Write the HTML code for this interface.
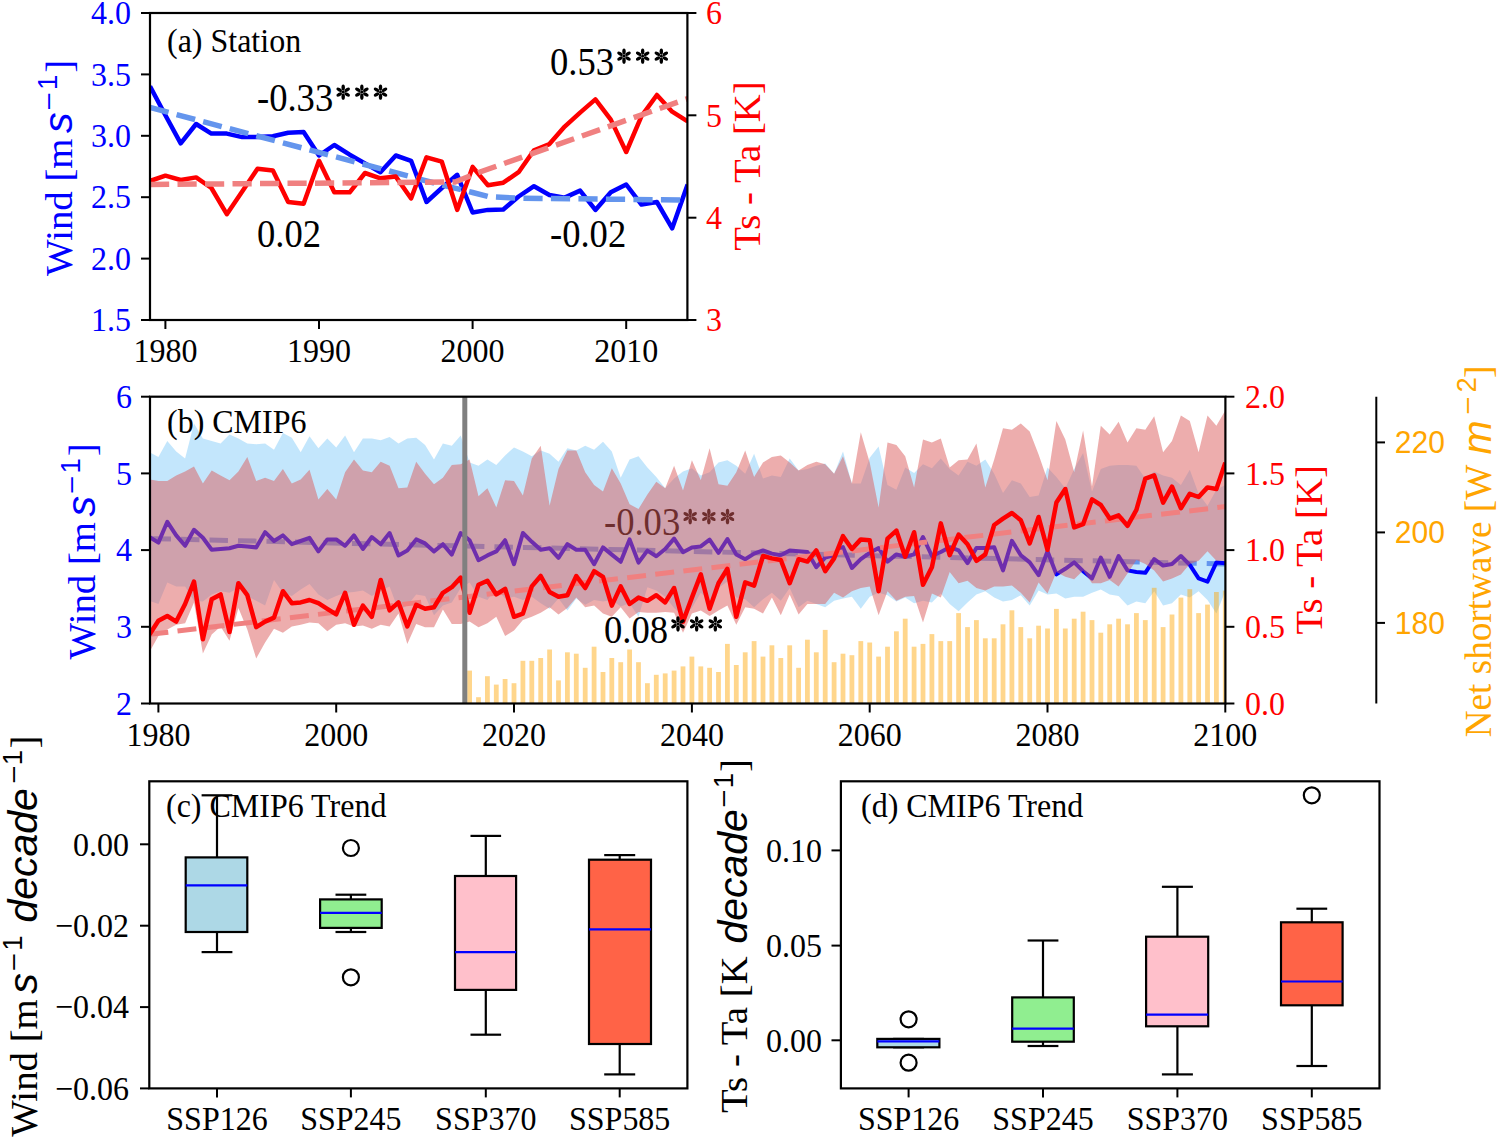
<!DOCTYPE html>
<html><head><meta charset="utf-8"><title>Figure</title>
<style>html,body{margin:0;padding:0;background:#fff;} svg{display:block;}</style></head>
<body><svg width="1500" height="1141" viewBox="0 0 1500 1141">
<rect x="0" y="0" width="1500" height="1141" fill="#fff"/>
<defs><clipPath id="ca"><rect x="150" y="13" width="537.4" height="307"/></clipPath>
<clipPath id="cb"><rect x="150" y="396.7" width="1075.4" height="306.8"/></clipPath></defs>
<g clip-path="url(#ca)">
<polyline points="150.0,86.3 165.4,115.2 180.7,143.3 196.1,124.0 211.4,133.6 226.8,133.6 242.2,137.1 257.5,137.1 272.9,136.2 288.2,132.7 303.6,131.9 319.0,155.5 334.3,145.0 349.7,154.7 365.0,163.4 380.4,172.2 395.8,155.5 411.1,160.8 426.5,202.0 441.8,188.0 457.2,174.8 472.6,212.5 487.9,209.9 503.3,209.5 518.6,196.5 534.0,186.2 549.4,195.0 564.7,197.6 580.1,190.6 595.4,209.9 610.8,192.3 626.2,184.5 641.5,204.6 656.9,202.0 672.2,228.3 687.6,184.5" fill="none" stroke="#0000ff" stroke-width="4.5" stroke-linejoin="round"/>
<polyline points="150.0,107.5 441.8,185.0 472.6,192.5 487.9,196.5 518.0,198.2 687.6,200.0" fill="none" stroke="#6495ed" stroke-width="5.5" stroke-dasharray="19.2 8.3"/>
<polyline points="150.0,181.0 165.4,175.7 180.7,180.0 196.1,177.4 211.4,188.0 226.8,214.2 242.2,191.5 257.5,168.7 272.9,170.4 288.2,202.0 303.6,203.7 319.0,160.8 334.3,192.3 349.7,192.3 365.0,173.0 380.4,178.3 395.8,176.6 411.1,198.5 426.5,157.3 441.8,161.7 457.2,209.9 472.6,166.9 487.9,185.3 503.3,182.7 518.6,172.2 534.0,150.3 549.4,144.1 564.7,126.6 580.1,112.6 595.4,99.4 610.8,119.6 626.2,152.0 641.5,116.1 656.9,95.0 672.2,111.7 687.6,121.3" fill="none" stroke="#ff0000" stroke-width="4.5" stroke-linejoin="round"/>
<polyline points="150.0,184.5 455.0,182.0 480.0,172.0 687.6,98.6" fill="none" stroke="#f08080" stroke-width="5.5" stroke-dasharray="19.2 8.3"/>
</g>
<rect x="150" y="13" width="537.4" height="307" fill="none" stroke="#000" stroke-width="2.2"/>
<line x1="141" y1="13.0" x2="150" y2="13.0" stroke="#000" stroke-width="2"/>
<text x="131.0" y="24.3" font-size="32" fill="#0000ff" text-anchor="end" font-family='"Liberation Serif", serif' transform="matrix(1,0,0,1.07,0,-1.70)" >4.0</text>
<line x1="141" y1="74.4" x2="150" y2="74.4" stroke="#000" stroke-width="2"/>
<text x="131.0" y="85.7" font-size="32" fill="#0000ff" text-anchor="end" font-family='"Liberation Serif", serif' transform="matrix(1,0,0,1.07,0,-6.00)" >3.5</text>
<line x1="141" y1="135.8" x2="150" y2="135.8" stroke="#000" stroke-width="2"/>
<text x="131.0" y="147.1" font-size="32" fill="#0000ff" text-anchor="end" font-family='"Liberation Serif", serif' transform="matrix(1,0,0,1.07,0,-10.30)" >3.0</text>
<line x1="141" y1="197.2" x2="150" y2="197.2" stroke="#000" stroke-width="2"/>
<text x="131.0" y="208.5" font-size="32" fill="#0000ff" text-anchor="end" font-family='"Liberation Serif", serif' transform="matrix(1,0,0,1.07,0,-14.59)" >2.5</text>
<line x1="141" y1="258.6" x2="150" y2="258.6" stroke="#000" stroke-width="2"/>
<text x="131.0" y="269.9" font-size="32" fill="#0000ff" text-anchor="end" font-family='"Liberation Serif", serif' transform="matrix(1,0,0,1.07,0,-18.89)" >2.0</text>
<line x1="141" y1="320.0" x2="150" y2="320.0" stroke="#000" stroke-width="2"/>
<text x="131.0" y="331.3" font-size="32" fill="#0000ff" text-anchor="end" font-family='"Liberation Serif", serif' transform="matrix(1,0,0,1.07,0,-23.19)" >1.5</text>
<line x1="687.4" y1="13.0" x2="696.4" y2="13.0" stroke="#000" stroke-width="2"/>
<text x="706.0" y="24.3" font-size="32" fill="#ff0000" text-anchor="start" font-family='"Liberation Serif", serif' transform="matrix(1,0,0,1.07,0,-1.70)" >6</text>
<line x1="687.4" y1="115.3" x2="696.4" y2="115.3" stroke="#000" stroke-width="2"/>
<text x="706.0" y="126.6" font-size="32" fill="#ff0000" text-anchor="start" font-family='"Liberation Serif", serif' transform="matrix(1,0,0,1.07,0,-8.86)" >5</text>
<line x1="687.4" y1="217.7" x2="696.4" y2="217.7" stroke="#000" stroke-width="2"/>
<text x="706.0" y="229.0" font-size="32" fill="#ff0000" text-anchor="start" font-family='"Liberation Serif", serif' transform="matrix(1,0,0,1.07,0,-16.03)" >4</text>
<line x1="687.4" y1="320.0" x2="696.4" y2="320.0" stroke="#000" stroke-width="2"/>
<text x="706.0" y="331.3" font-size="32" fill="#ff0000" text-anchor="start" font-family='"Liberation Serif", serif' transform="matrix(1,0,0,1.07,0,-23.19)" >3</text>
<line x1="165.4" y1="320" x2="165.4" y2="329" stroke="#000" stroke-width="2"/>
<text x="165.4" y="362.0" font-size="32" fill="#000" text-anchor="middle" font-family='"Liberation Serif", serif' transform="matrix(1,0,0,1.07,0,-25.34)" >1980</text>
<line x1="319.0" y1="320" x2="319.0" y2="329" stroke="#000" stroke-width="2"/>
<text x="319.0" y="362.0" font-size="32" fill="#000" text-anchor="middle" font-family='"Liberation Serif", serif' transform="matrix(1,0,0,1.07,0,-25.34)" >1990</text>
<line x1="472.6" y1="320" x2="472.6" y2="329" stroke="#000" stroke-width="2"/>
<text x="472.6" y="362.0" font-size="32" fill="#000" text-anchor="middle" font-family='"Liberation Serif", serif' transform="matrix(1,0,0,1.07,0,-25.34)" >2000</text>
<line x1="626.2" y1="320" x2="626.2" y2="329" stroke="#000" stroke-width="2"/>
<text x="626.2" y="362.0" font-size="32" fill="#000" text-anchor="middle" font-family='"Liberation Serif", serif' transform="matrix(1,0,0,1.07,0,-25.34)" >2010</text>
<text x="167.0" y="52.0" font-size="32" fill="#000" text-anchor="start" font-family='"Liberation Serif", serif' transform="matrix(1,0,0,1.07,0,-3.64)" >(a) Station</text>
<text x="257.0" y="111.0" font-size="36.6" fill="#000" text-anchor="start" font-family='"Liberation Serif", serif' transform="matrix(1,0,0,1.07,0,-7.77)" >-0.33</text>
<g fill="#000"><ellipse cx="343.19" cy="87.58" rx="3.11" ry="1.72" transform="rotate(-90 343.19 87.58)"/><ellipse cx="347.15" cy="89.86" rx="3.11" ry="1.72" transform="rotate(-30 347.15 89.86)"/><ellipse cx="347.15" cy="94.44" rx="3.11" ry="1.72" transform="rotate(30 347.15 94.44)"/><ellipse cx="343.19" cy="96.73" rx="3.11" ry="1.72" transform="rotate(90 343.19 96.73)"/><ellipse cx="339.23" cy="94.44" rx="3.11" ry="1.72" transform="rotate(150 339.23 94.44)"/><ellipse cx="339.23" cy="89.86" rx="3.11" ry="1.72" transform="rotate(-150 339.23 89.86)"/><circle cx="343.19" cy="92.15" r="1.46"/><ellipse cx="361.85" cy="87.58" rx="3.11" ry="1.72" transform="rotate(-90 361.85 87.58)"/><ellipse cx="365.82" cy="89.86" rx="3.11" ry="1.72" transform="rotate(-30 365.82 89.86)"/><ellipse cx="365.82" cy="94.44" rx="3.11" ry="1.72" transform="rotate(30 365.82 94.44)"/><ellipse cx="361.85" cy="96.73" rx="3.11" ry="1.72" transform="rotate(90 361.85 96.73)"/><ellipse cx="357.89" cy="94.44" rx="3.11" ry="1.72" transform="rotate(150 357.89 94.44)"/><ellipse cx="357.89" cy="89.86" rx="3.11" ry="1.72" transform="rotate(-150 357.89 89.86)"/><circle cx="361.85" cy="92.15" r="1.46"/><ellipse cx="380.52" cy="87.58" rx="3.11" ry="1.72" transform="rotate(-90 380.52 87.58)"/><ellipse cx="384.48" cy="89.86" rx="3.11" ry="1.72" transform="rotate(-30 384.48 89.86)"/><ellipse cx="384.48" cy="94.44" rx="3.11" ry="1.72" transform="rotate(30 384.48 94.44)"/><ellipse cx="380.52" cy="96.73" rx="3.11" ry="1.72" transform="rotate(90 380.52 96.73)"/><ellipse cx="376.56" cy="94.44" rx="3.11" ry="1.72" transform="rotate(150 376.56 94.44)"/><ellipse cx="376.56" cy="89.86" rx="3.11" ry="1.72" transform="rotate(-150 376.56 89.86)"/><circle cx="380.52" cy="92.15" r="1.46"/></g>
<text x="550.0" y="75.0" font-size="36.6" fill="#000" text-anchor="start" font-family='"Liberation Serif", serif' transform="matrix(1,0,0,1.07,0,-5.25)" >0.53</text>
<g fill="#000"><ellipse cx="624.00" cy="51.58" rx="3.11" ry="1.72" transform="rotate(-90 624.00 51.58)"/><ellipse cx="627.96" cy="53.86" rx="3.11" ry="1.72" transform="rotate(-30 627.96 53.86)"/><ellipse cx="627.96" cy="58.44" rx="3.11" ry="1.72" transform="rotate(30 627.96 58.44)"/><ellipse cx="624.00" cy="60.73" rx="3.11" ry="1.72" transform="rotate(90 624.00 60.73)"/><ellipse cx="620.04" cy="58.44" rx="3.11" ry="1.72" transform="rotate(150 620.04 58.44)"/><ellipse cx="620.04" cy="53.86" rx="3.11" ry="1.72" transform="rotate(-150 620.04 53.86)"/><circle cx="624.00" cy="56.15" r="1.46"/><ellipse cx="642.67" cy="51.58" rx="3.11" ry="1.72" transform="rotate(-90 642.67 51.58)"/><ellipse cx="646.63" cy="53.86" rx="3.11" ry="1.72" transform="rotate(-30 646.63 53.86)"/><ellipse cx="646.63" cy="58.44" rx="3.11" ry="1.72" transform="rotate(30 646.63 58.44)"/><ellipse cx="642.67" cy="60.73" rx="3.11" ry="1.72" transform="rotate(90 642.67 60.73)"/><ellipse cx="638.70" cy="58.44" rx="3.11" ry="1.72" transform="rotate(150 638.70 58.44)"/><ellipse cx="638.70" cy="53.86" rx="3.11" ry="1.72" transform="rotate(-150 638.70 53.86)"/><circle cx="642.67" cy="56.15" r="1.46"/><ellipse cx="661.33" cy="51.58" rx="3.11" ry="1.72" transform="rotate(-90 661.33 51.58)"/><ellipse cx="665.29" cy="53.86" rx="3.11" ry="1.72" transform="rotate(-30 665.29 53.86)"/><ellipse cx="665.29" cy="58.44" rx="3.11" ry="1.72" transform="rotate(30 665.29 58.44)"/><ellipse cx="661.33" cy="60.73" rx="3.11" ry="1.72" transform="rotate(90 661.33 60.73)"/><ellipse cx="657.37" cy="58.44" rx="3.11" ry="1.72" transform="rotate(150 657.37 58.44)"/><ellipse cx="657.37" cy="53.86" rx="3.11" ry="1.72" transform="rotate(-150 657.37 53.86)"/><circle cx="661.33" cy="56.15" r="1.46"/></g>
<text x="257.0" y="247.5" font-size="36.6" fill="#000" text-anchor="start" font-family='"Liberation Serif", serif' transform="matrix(1,0,0,1.07,0,-17.33)" >0.02</text>
<text x="550.0" y="247.5" font-size="36.6" fill="#000" text-anchor="start" font-family='"Liberation Serif", serif' transform="matrix(1,0,0,1.07,0,-17.33)" >-0.02</text>
<g transform="translate(71.5,275.9) rotate(-90)" fill="#0000ff"><text x="-0.0" y="0.0" font-family='"Liberation Serif", serif' font-style="normal" font-size="38.8">Wind [m</text><text x="142.9" y="0.0" font-family='"Liberation Sans", sans-serif' font-style="italic" font-size="41">s</text><text x="167.0" y="-16.0" font-family='"Liberation Sans", sans-serif' font-style="normal" font-size="27.5">–</text><text x="185.9" y="-14.5" font-family='"Liberation Sans", sans-serif' font-style="normal" font-size="27.5">1</text><text x="203.1" y="0.0" font-family='"Liberation Serif", serif' font-style="normal" font-size="38.8">]</text></g>
<g transform="translate(759.6,250) rotate(-90)" fill="#ff0000"><text x="-0.7" y="0.0" font-family='"Liberation Serif", serif' font-style="normal" font-size="38.8">Ts - Ta [K]</text></g>
<g clip-path="url(#cb)">
<polygon points="149.5,452.2 158.4,457.0 167.3,441.0 176.2,451.4 185.1,458.6 194.0,423.4 202.9,438.6 211.7,441.0 220.6,443.4 229.5,434.6 238.4,438.6 247.3,443.4 256.2,444.2 265.1,443.4 274.0,449.8 282.9,433.0 291.8,437.8 300.7,452.2 309.5,436.2 318.4,448.2 327.3,438.6 336.2,447.4 345.1,435.4 354.0,452.2 362.9,438.6 371.8,438.6 380.7,440.2 389.6,437.0 398.5,443.4 407.3,438.6 416.2,437.8 425.1,445.0 434.0,459.4 442.9,443.4 451.8,445.8 460.7,435.4 469.6,462.6 478.5,465.8 487.4,459.4 496.3,465.0 505.1,455.4 514.0,447.4 522.9,451.4 531.8,456.2 540.7,450.6 549.6,453.8 558.5,461.8 567.4,448.2 576.3,450.6 585.2,445.8 594.1,449.8 603.0,441.8 611.8,451.4 620.7,477.8 629.6,459.4 638.5,456.2 647.4,467.4 656.3,477.0 665.2,488.2 674.1,478.6 683.0,471.4 691.9,468.2 700.8,475.4 709.6,472.2 718.5,462.6 727.4,460.2 736.3,465.8 745.2,473.8 754.1,453.8 763.0,478.6 771.9,475.4 780.8,477.0 789.7,458.6 798.6,470.6 807.4,469.0 816.3,465.8 825.2,463.4 834.1,473.8 843.0,451.4 851.9,483.4 860.8,483.4 869.7,457.8 878.6,446.6 887.5,485.0 896.4,489.8 905.2,467.4 914.1,473.0 923.0,464.2 931.9,468.2 940.8,458.6 949.7,469.0 958.6,475.4 967.5,461.8 976.4,465.8 985.3,459.4 994.2,473.8 1003.0,493.0 1011.9,480.2 1020.8,483.4 1029.7,497.0 1038.6,495.4 1047.5,467.4 1056.4,477.0 1065.3,488.2 1074.2,469.0 1083.1,453.0 1092.0,491.4 1100.8,469.0 1109.7,465.8 1118.6,465.0 1127.5,465.0 1136.4,465.8 1145.3,478.6 1154.2,471.4 1163.1,475.4 1172.0,477.8 1180.9,485.0 1189.8,469.8 1198.6,493.8 1207.5,505.8 1216.4,489.8 1225.3,485.0 1225.3,591.2 1216.4,613.6 1207.5,600.0 1198.6,591.2 1189.8,597.6 1180.9,594.4 1172.0,603.2 1163.1,605.6 1154.2,591.2 1145.3,603.2 1136.4,601.6 1127.5,605.6 1118.6,596.0 1109.7,594.4 1100.8,589.6 1092.0,592.8 1083.1,596.8 1074.2,596.8 1065.3,598.4 1056.4,593.6 1047.5,594.4 1038.6,590.4 1029.7,605.6 1020.8,595.2 1011.9,600.0 1003.0,601.6 994.2,597.6 985.3,591.2 976.4,594.4 967.5,602.4 958.6,611.2 949.7,604.0 940.8,593.6 931.9,602.4 923.0,600.8 914.1,603.2 905.2,597.6 896.4,601.6 887.5,595.2 878.6,592.8 869.7,596.8 860.8,608.8 851.9,596.8 843.0,598.4 834.1,600.8 825.2,607.2 816.3,604.0 807.4,600.8 798.6,607.2 789.7,588.0 780.8,600.8 771.9,592.8 763.0,599.2 754.1,607.2 745.2,599.2 736.3,597.6 727.4,581.6 718.5,588.0 709.6,600.8 700.8,592.8 691.9,608.0 683.0,616.0 674.1,608.0 665.2,596.8 656.3,590.4 647.4,587.2 638.5,616.8 629.6,603.2 620.7,606.4 611.8,600.0 603.0,601.6 594.1,600.0 585.2,604.8 576.3,598.4 567.4,610.4 558.5,598.4 549.6,608.8 540.7,603.2 531.8,596.8 522.9,600.0 514.0,596.8 505.1,598.4 496.3,588.8 487.4,600.0 478.5,596.8 469.6,582.4 460.7,588.0 451.8,602.4 442.9,605.6 434.0,615.2 425.1,596.0 416.2,594.4 407.3,605.6 398.5,610.4 389.6,586.4 380.7,590.4 371.8,596.0 362.9,590.4 354.0,592.0 345.1,592.8 336.2,596.0 327.3,600.0 318.4,594.4 309.5,584.0 300.7,589.6 291.8,596.0 282.9,592.8 274.0,580.0 265.1,605.6 256.2,600.8 247.3,596.0 238.4,588.0 229.5,592.8 220.6,591.2 211.7,594.4 202.9,601.6 194.0,600.8 185.1,586.4 176.2,586.4 167.3,582.4 158.4,604.0 149.5,600.8" fill="#87cefa" fill-opacity="0.5" stroke="none"/>
<polyline points="149.4,538.6 1225.4,564.0" fill="none" stroke="#6495ed" stroke-width="5" stroke-dasharray="18.5 10" stroke-dashoffset="25.4"/>
<polyline points="149.5,537.0 158.4,542.6 167.3,521.8 176.2,535.4 185.1,545.8 194.0,529.8 202.9,537.8 211.7,549.8 220.6,549.0 229.5,548.2 238.4,545.8 247.3,546.6 256.2,547.4 265.1,532.2 274.0,541.0 282.9,535.4 291.8,544.2 300.7,541.0 309.5,537.8 318.4,551.4 327.3,539.4 336.2,539.4 345.1,545.8 354.0,535.4 362.9,549.0 371.8,537.0 380.7,544.2 389.6,533.0 398.5,555.4 407.3,550.6 416.2,539.4 425.1,543.4 434.0,551.4 442.9,544.2 451.8,554.6 460.7,533.0 469.6,540.2 478.5,560.2 487.4,555.4 496.3,551.4 505.1,540.2 514.0,564.2 522.9,533.0 531.8,541.8 540.7,549.8 549.6,548.2 558.5,557.8 567.4,544.2 576.3,549.8 585.2,549.8 594.1,564.2 603.0,547.4 611.8,554.6 620.7,561.8 629.6,539.4 638.5,562.6 647.4,550.6 656.3,556.2 665.2,549.0 674.1,538.6 683.0,552.2 691.9,547.4 700.8,546.4 709.6,539.7 718.5,552.8 727.4,539.0 736.3,554.4 745.2,559.2 754.1,553.6 763.0,550.4 771.9,553.6 780.8,555.2 789.7,550.4 798.6,551.2 807.4,552.0 816.3,567.2 825.2,557.6 834.1,555.2 843.0,547.2 851.9,568.0 860.8,559.2 869.7,552.8 878.6,548.0 887.5,561.6 896.4,554.4 905.2,556.8 914.1,554.4 923.0,537.0 931.9,556.0 940.8,552.0 949.7,547.2 958.6,550.4 967.5,563.2 976.4,548.0 985.3,548.0 994.2,547.2 1003.0,570.4 1011.9,540.8 1020.8,555.2 1029.7,562.4 1038.6,575.2 1047.5,551.2 1056.4,574.4 1065.3,568.8 1074.2,562.4 1083.1,571.2 1092.0,578.4 1100.8,557.6 1109.7,576.8 1118.6,556.0 1127.5,570.4 1136.4,572.0 1145.3,572.8 1154.2,559.2 1163.1,565.6 1172.0,564.0 1180.9,556.0 1189.8,564.8 1198.6,578.4 1207.5,581.6 1216.4,562.4 1225.3,563.2" fill="none" stroke="#0000ff" stroke-width="4" stroke-linejoin="round"/>
<text x="604.0" y="535.4" font-size="36.6" fill="#000" text-anchor="start" font-family='"Liberation Serif", serif' transform="matrix(1,0,0,1.07,0,-37.48)" >-0.03</text>
<g fill="#000"><ellipse cx="690.19" cy="511.98" rx="3.11" ry="1.72" transform="rotate(-90 690.19 511.98)"/><ellipse cx="694.15" cy="514.26" rx="3.11" ry="1.72" transform="rotate(-30 694.15 514.26)"/><ellipse cx="694.15" cy="518.84" rx="3.11" ry="1.72" transform="rotate(30 694.15 518.84)"/><ellipse cx="690.19" cy="521.13" rx="3.11" ry="1.72" transform="rotate(90 690.19 521.13)"/><ellipse cx="686.23" cy="518.84" rx="3.11" ry="1.72" transform="rotate(150 686.23 518.84)"/><ellipse cx="686.23" cy="514.26" rx="3.11" ry="1.72" transform="rotate(-150 686.23 514.26)"/><circle cx="690.19" cy="516.55" r="1.46"/><ellipse cx="708.85" cy="511.98" rx="3.11" ry="1.72" transform="rotate(-90 708.85 511.98)"/><ellipse cx="712.82" cy="514.26" rx="3.11" ry="1.72" transform="rotate(-30 712.82 514.26)"/><ellipse cx="712.82" cy="518.84" rx="3.11" ry="1.72" transform="rotate(30 712.82 518.84)"/><ellipse cx="708.85" cy="521.13" rx="3.11" ry="1.72" transform="rotate(90 708.85 521.13)"/><ellipse cx="704.89" cy="518.84" rx="3.11" ry="1.72" transform="rotate(150 704.89 518.84)"/><ellipse cx="704.89" cy="514.26" rx="3.11" ry="1.72" transform="rotate(-150 704.89 514.26)"/><circle cx="708.85" cy="516.55" r="1.46"/><ellipse cx="727.52" cy="511.98" rx="3.11" ry="1.72" transform="rotate(-90 727.52 511.98)"/><ellipse cx="731.48" cy="514.26" rx="3.11" ry="1.72" transform="rotate(-30 731.48 514.26)"/><ellipse cx="731.48" cy="518.84" rx="3.11" ry="1.72" transform="rotate(30 731.48 518.84)"/><ellipse cx="727.52" cy="521.13" rx="3.11" ry="1.72" transform="rotate(90 727.52 521.13)"/><ellipse cx="723.56" cy="518.84" rx="3.11" ry="1.72" transform="rotate(150 723.56 518.84)"/><ellipse cx="723.56" cy="514.26" rx="3.11" ry="1.72" transform="rotate(-150 723.56 514.26)"/><circle cx="727.52" cy="516.55" r="1.46"/></g>
<polygon points="149.5,479.4 158.4,481.0 167.3,481.0 176.2,475.4 185.1,471.4 194.0,466.6 202.9,483.4 211.7,470.6 220.6,475.4 229.5,480.2 238.4,471.4 247.3,457.0 256.2,481.0 265.1,477.8 274.0,481.0 282.9,469.0 291.8,483.4 300.7,479.4 309.5,469.8 318.4,499.4 327.3,489.0 336.2,499.4 345.1,472.2 354.0,459.4 362.9,470.6 371.8,472.2 380.7,461.8 389.6,465.8 398.5,488.2 407.3,487.4 416.2,461.8 425.1,473.8 434.0,484.2 442.9,477.8 451.8,465.0 460.7,464.2 469.6,459.4 478.5,496.2 487.4,488.2 496.3,507.4 505.1,480.2 514.0,481.0 522.9,495.4 531.8,458.6 540.7,445.8 549.6,505.8 558.5,469.0 567.4,450.6 576.3,450.6 585.2,472.2 594.1,485.0 603.0,491.4 611.8,468.2 620.7,483.4 629.6,504.2 638.5,509.0 647.4,494.6 656.3,481.8 665.2,488.2 674.1,465.8 683.0,490.6 691.9,460.2 700.8,480.2 709.6,448.2 718.5,484.2 727.4,485.8 736.3,472.2 745.2,450.6 754.1,477.0 763.0,462.6 771.9,457.0 780.8,455.4 789.7,462.6 798.6,470.6 807.4,465.0 816.3,461.8 825.2,464.2 834.1,473.8 843.0,456.2 851.9,483.4 860.8,432.2 869.7,462.6 878.6,507.4 887.5,442.6 896.4,445.0 905.2,456.2 914.1,487.4 923.0,439.4 931.9,442.6 940.8,438.6 949.7,467.4 958.6,460.2 967.5,459.4 976.4,443.4 985.3,487.4 994.2,459.4 1003.0,428.2 1011.9,429.8 1020.8,423.4 1029.7,431.4 1038.6,454.6 1047.5,480.2 1056.4,421.0 1065.3,439.4 1074.2,472.2 1083.1,430.6 1092.0,486.6 1100.8,425.8 1109.7,434.6 1118.6,421.8 1127.5,442.6 1136.4,428.2 1145.3,429.8 1154.2,416.2 1163.1,452.2 1172.0,441.0 1180.9,415.4 1189.8,421.0 1198.6,452.2 1207.5,415.4 1216.4,425.8 1225.3,410.6 1225.3,560.8 1216.4,560.8 1207.5,551.2 1198.6,560.8 1189.8,564.0 1180.9,574.4 1172.0,578.4 1163.1,581.6 1154.2,570.4 1145.3,564.0 1136.4,560.0 1127.5,573.6 1118.6,586.4 1109.7,580.0 1100.8,583.2 1092.0,583.2 1083.1,570.4 1074.2,579.2 1065.3,576.8 1056.4,572.0 1047.5,593.6 1038.6,582.4 1029.7,602.4 1020.8,592.8 1011.9,585.6 1003.0,586.4 994.2,586.4 985.3,590.4 976.4,588.0 967.5,580.8 958.6,583.2 949.7,572.0 940.8,597.6 931.9,593.6 923.0,622.4 914.1,596.0 905.2,596.8 896.4,600.8 887.5,591.2 878.6,615.2 869.7,586.4 860.8,588.0 851.9,591.2 843.0,597.6 834.1,592.8 825.2,604.0 816.3,604.0 807.4,604.0 798.6,614.4 789.7,594.4 780.8,615.2 771.9,597.6 763.0,613.6 754.1,608.8 745.2,607.2 736.3,624.8 727.4,605.6 718.5,610.4 709.6,616.0 700.8,610.4 691.9,613.6 683.0,632.8 674.1,612.8 665.2,612.0 656.3,612.8 647.4,612.8 638.5,612.0 629.6,618.4 620.7,607.2 611.8,616.8 603.0,613.6 594.1,605.6 585.2,607.2 576.3,597.6 567.4,608.0 558.5,614.4 549.6,607.2 540.7,612.8 531.8,616.8 522.9,620.0 514.0,630.4 505.1,636.0 496.3,616.8 487.4,623.2 478.5,627.2 469.6,621.6 460.7,624.0 451.8,624.0 442.9,609.6 434.0,627.2 425.1,627.2 416.2,624.0 407.3,644.0 398.5,613.6 389.6,626.4 380.7,624.8 371.8,628.8 362.9,625.6 354.0,626.4 345.1,623.2 336.2,624.8 327.3,631.2 318.4,623.2 309.5,622.4 300.7,624.8 291.8,626.4 282.9,632.8 274.0,628.8 265.1,642.4 256.2,658.4 247.3,629.6 238.4,608.0 229.5,640.8 220.6,626.4 211.7,634.4 202.9,653.6 194.0,602.4 185.1,623.2 176.2,624.8 167.3,629.6 158.4,636.0 149.5,652.0" fill="#dc5c5c" fill-opacity="0.5" stroke="none"/>
<polyline points="149.4,634.4 1225.4,506.6" fill="none" stroke="#f08080" stroke-width="5" stroke-dasharray="19 9.3"/>
<polyline points="149.5,634.4 158.4,620.8 167.3,616.0 176.2,621.6 185.1,604.0 194.0,581.6 202.9,639.2 211.7,599.2 220.6,594.4 229.5,632.0 238.4,583.2 247.3,595.2 256.2,627.2 265.1,621.6 274.0,617.6 282.9,591.2 291.8,603.2 300.7,602.4 309.5,600.0 318.4,603.2 327.3,608.8 336.2,614.4 345.1,592.8 354.0,624.8 362.9,605.6 371.8,616.8 380.7,580.0 389.6,610.4 398.5,602.4 407.3,626.4 416.2,604.8 425.1,608.8 434.0,607.2 442.9,592.8 451.8,587.2 460.7,577.6 469.6,612.8 478.5,584.8 487.4,580.8 496.3,594.4 505.1,588.8 514.0,616.8 522.9,613.6 531.8,586.4 540.7,576.0 549.6,592.0 558.5,596.8 567.4,595.2 576.3,576.0 585.2,588.0 594.1,571.2 603.0,576.8 611.8,605.6 620.7,586.4 629.6,604.0 638.5,597.6 647.4,600.8 656.3,595.2 665.2,602.4 674.1,588.0 683.0,621.6 691.9,597.6 700.8,574.4 709.6,608.8 718.5,583.2 727.4,568.8 736.3,616.8 745.2,582.4 754.1,585.6 763.0,556.0 771.9,558.4 780.8,560.0 789.7,583.2 798.6,559.2 807.4,561.6 816.3,550.4 825.2,571.2 834.1,558.4 843.0,536.2 851.9,549.0 860.8,539.4 869.7,540.2 878.6,591.2 887.5,538.6 896.4,530.6 905.2,556.8 914.1,532.2 923.0,584.8 931.9,567.2 940.8,523.4 949.7,555.2 958.6,534.6 967.5,544.2 976.4,560.8 985.3,554.4 994.2,525.0 1003.0,518.6 1011.9,513.0 1020.8,520.2 1029.7,543.4 1038.6,517.0 1047.5,549.8 1056.4,502.6 1065.3,489.0 1074.2,527.4 1083.1,524.2 1092.0,499.4 1100.8,505.0 1109.7,518.6 1118.6,515.4 1127.5,525.8 1136.4,509.8 1145.3,478.6 1154.2,475.4 1163.1,502.6 1172.0,486.6 1180.9,508.2 1189.8,493.8 1198.6,497.0 1207.5,487.4 1216.4,489.0 1225.3,462.6" fill="none" stroke="#ff0000" stroke-width="4.5" stroke-linejoin="round"/>
<text x="604.0" y="642.7" font-size="36.6" fill="#000" text-anchor="start" font-family='"Liberation Serif", serif' transform="matrix(1,0,0,1.07,0,-44.99)" >0.08</text>
<g fill="#000"><ellipse cx="678.00" cy="619.28" rx="3.11" ry="1.72" transform="rotate(-90 678.00 619.28)"/><ellipse cx="681.96" cy="621.56" rx="3.11" ry="1.72" transform="rotate(-30 681.96 621.56)"/><ellipse cx="681.96" cy="626.14" rx="3.11" ry="1.72" transform="rotate(30 681.96 626.14)"/><ellipse cx="678.00" cy="628.43" rx="3.11" ry="1.72" transform="rotate(90 678.00 628.43)"/><ellipse cx="674.04" cy="626.14" rx="3.11" ry="1.72" transform="rotate(150 674.04 626.14)"/><ellipse cx="674.04" cy="621.56" rx="3.11" ry="1.72" transform="rotate(-150 674.04 621.56)"/><circle cx="678.00" cy="623.85" r="1.46"/><ellipse cx="696.67" cy="619.28" rx="3.11" ry="1.72" transform="rotate(-90 696.67 619.28)"/><ellipse cx="700.63" cy="621.56" rx="3.11" ry="1.72" transform="rotate(-30 700.63 621.56)"/><ellipse cx="700.63" cy="626.14" rx="3.11" ry="1.72" transform="rotate(30 700.63 626.14)"/><ellipse cx="696.67" cy="628.43" rx="3.11" ry="1.72" transform="rotate(90 696.67 628.43)"/><ellipse cx="692.70" cy="626.14" rx="3.11" ry="1.72" transform="rotate(150 692.70 626.14)"/><ellipse cx="692.70" cy="621.56" rx="3.11" ry="1.72" transform="rotate(-150 692.70 621.56)"/><circle cx="696.67" cy="623.85" r="1.46"/><ellipse cx="715.33" cy="619.28" rx="3.11" ry="1.72" transform="rotate(-90 715.33 619.28)"/><ellipse cx="719.29" cy="621.56" rx="3.11" ry="1.72" transform="rotate(-30 719.29 621.56)"/><ellipse cx="719.29" cy="626.14" rx="3.11" ry="1.72" transform="rotate(30 719.29 626.14)"/><ellipse cx="715.33" cy="628.43" rx="3.11" ry="1.72" transform="rotate(90 715.33 628.43)"/><ellipse cx="711.37" cy="626.14" rx="3.11" ry="1.72" transform="rotate(150 711.37 626.14)"/><ellipse cx="711.37" cy="621.56" rx="3.11" ry="1.72" transform="rotate(-150 711.37 621.56)"/><circle cx="715.33" cy="623.85" r="1.46"/></g>
<rect x="467.2" y="670.6" width="4.8" height="32.9" fill="#ffa500" fill-opacity="0.45"/>
<rect x="476.1" y="697.2" width="4.8" height="6.3" fill="#ffa500" fill-opacity="0.45"/>
<rect x="485.0" y="676.2" width="4.8" height="27.3" fill="#ffa500" fill-opacity="0.45"/>
<rect x="493.9" y="684.6" width="4.8" height="18.9" fill="#ffa500" fill-opacity="0.45"/>
<rect x="502.7" y="679.0" width="4.8" height="24.5" fill="#ffa500" fill-opacity="0.45"/>
<rect x="511.6" y="683.2" width="4.8" height="20.3" fill="#ffa500" fill-opacity="0.45"/>
<rect x="520.5" y="660.8" width="4.8" height="42.7" fill="#ffa500" fill-opacity="0.45"/>
<rect x="529.4" y="660.8" width="4.8" height="42.7" fill="#ffa500" fill-opacity="0.45"/>
<rect x="538.3" y="658.0" width="4.8" height="45.5" fill="#ffa500" fill-opacity="0.45"/>
<rect x="547.2" y="649.5" width="4.8" height="54.0" fill="#ffa500" fill-opacity="0.45"/>
<rect x="556.1" y="680.4" width="4.8" height="23.1" fill="#ffa500" fill-opacity="0.45"/>
<rect x="565.0" y="652.3" width="4.8" height="51.2" fill="#ffa500" fill-opacity="0.45"/>
<rect x="573.9" y="653.7" width="4.8" height="49.8" fill="#ffa500" fill-opacity="0.45"/>
<rect x="582.8" y="667.8" width="4.8" height="35.7" fill="#ffa500" fill-opacity="0.45"/>
<rect x="591.7" y="646.7" width="4.8" height="56.8" fill="#ffa500" fill-opacity="0.45"/>
<rect x="600.6" y="672.0" width="4.8" height="31.5" fill="#ffa500" fill-opacity="0.45"/>
<rect x="609.4" y="658.0" width="4.8" height="45.5" fill="#ffa500" fill-opacity="0.45"/>
<rect x="618.3" y="662.2" width="4.8" height="41.3" fill="#ffa500" fill-opacity="0.45"/>
<rect x="627.2" y="649.5" width="4.8" height="54.0" fill="#ffa500" fill-opacity="0.45"/>
<rect x="636.1" y="662.2" width="4.8" height="41.3" fill="#ffa500" fill-opacity="0.45"/>
<rect x="645.0" y="683.2" width="4.8" height="20.3" fill="#ffa500" fill-opacity="0.45"/>
<rect x="653.9" y="674.8" width="4.8" height="28.7" fill="#ffa500" fill-opacity="0.45"/>
<rect x="662.8" y="673.4" width="4.8" height="30.1" fill="#ffa500" fill-opacity="0.45"/>
<rect x="671.7" y="670.6" width="4.8" height="32.9" fill="#ffa500" fill-opacity="0.45"/>
<rect x="680.6" y="666.4" width="4.8" height="37.1" fill="#ffa500" fill-opacity="0.45"/>
<rect x="689.5" y="656.6" width="4.8" height="46.9" fill="#ffa500" fill-opacity="0.45"/>
<rect x="698.4" y="666.4" width="4.8" height="37.1" fill="#ffa500" fill-opacity="0.45"/>
<rect x="707.2" y="667.8" width="4.8" height="35.7" fill="#ffa500" fill-opacity="0.45"/>
<rect x="716.1" y="672.0" width="4.8" height="31.5" fill="#ffa500" fill-opacity="0.45"/>
<rect x="725.0" y="643.9" width="4.8" height="59.6" fill="#ffa500" fill-opacity="0.45"/>
<rect x="733.9" y="665.0" width="4.8" height="38.5" fill="#ffa500" fill-opacity="0.45"/>
<rect x="742.8" y="652.3" width="4.8" height="51.2" fill="#ffa500" fill-opacity="0.45"/>
<rect x="751.7" y="641.1" width="4.8" height="62.4" fill="#ffa500" fill-opacity="0.45"/>
<rect x="760.6" y="656.6" width="4.8" height="46.9" fill="#ffa500" fill-opacity="0.45"/>
<rect x="769.5" y="645.3" width="4.8" height="58.2" fill="#ffa500" fill-opacity="0.45"/>
<rect x="778.4" y="658.0" width="4.8" height="45.5" fill="#ffa500" fill-opacity="0.45"/>
<rect x="787.3" y="645.3" width="4.8" height="58.2" fill="#ffa500" fill-opacity="0.45"/>
<rect x="796.2" y="667.8" width="4.8" height="35.7" fill="#ffa500" fill-opacity="0.45"/>
<rect x="805.0" y="639.7" width="4.8" height="63.8" fill="#ffa500" fill-opacity="0.45"/>
<rect x="813.9" y="652.3" width="4.8" height="51.2" fill="#ffa500" fill-opacity="0.45"/>
<rect x="822.8" y="629.9" width="4.8" height="73.6" fill="#ffa500" fill-opacity="0.45"/>
<rect x="831.7" y="662.2" width="4.8" height="41.3" fill="#ffa500" fill-opacity="0.45"/>
<rect x="840.6" y="653.7" width="4.8" height="49.8" fill="#ffa500" fill-opacity="0.45"/>
<rect x="849.5" y="655.2" width="4.8" height="48.3" fill="#ffa500" fill-opacity="0.45"/>
<rect x="858.4" y="641.1" width="4.8" height="62.4" fill="#ffa500" fill-opacity="0.45"/>
<rect x="867.3" y="642.5" width="4.8" height="61.0" fill="#ffa500" fill-opacity="0.45"/>
<rect x="876.2" y="656.6" width="4.8" height="46.9" fill="#ffa500" fill-opacity="0.45"/>
<rect x="885.1" y="646.7" width="4.8" height="56.8" fill="#ffa500" fill-opacity="0.45"/>
<rect x="894.0" y="631.3" width="4.8" height="72.2" fill="#ffa500" fill-opacity="0.45"/>
<rect x="902.8" y="618.7" width="4.8" height="84.8" fill="#ffa500" fill-opacity="0.45"/>
<rect x="911.7" y="646.7" width="4.8" height="56.8" fill="#ffa500" fill-opacity="0.45"/>
<rect x="920.6" y="643.9" width="4.8" height="59.6" fill="#ffa500" fill-opacity="0.45"/>
<rect x="929.5" y="634.1" width="4.8" height="69.4" fill="#ffa500" fill-opacity="0.45"/>
<rect x="938.4" y="641.1" width="4.8" height="62.4" fill="#ffa500" fill-opacity="0.45"/>
<rect x="947.3" y="641.1" width="4.8" height="62.4" fill="#ffa500" fill-opacity="0.45"/>
<rect x="956.2" y="613.1" width="4.8" height="90.4" fill="#ffa500" fill-opacity="0.45"/>
<rect x="965.1" y="627.1" width="4.8" height="76.4" fill="#ffa500" fill-opacity="0.45"/>
<rect x="974.0" y="620.1" width="4.8" height="83.4" fill="#ffa500" fill-opacity="0.45"/>
<rect x="982.9" y="638.3" width="4.8" height="65.2" fill="#ffa500" fill-opacity="0.45"/>
<rect x="991.8" y="638.3" width="4.8" height="65.2" fill="#ffa500" fill-opacity="0.45"/>
<rect x="1000.6" y="624.3" width="4.8" height="79.2" fill="#ffa500" fill-opacity="0.45"/>
<rect x="1009.5" y="610.3" width="4.8" height="93.2" fill="#ffa500" fill-opacity="0.45"/>
<rect x="1018.4" y="627.1" width="4.8" height="76.4" fill="#ffa500" fill-opacity="0.45"/>
<rect x="1027.3" y="638.3" width="4.8" height="65.2" fill="#ffa500" fill-opacity="0.45"/>
<rect x="1036.2" y="625.7" width="4.8" height="77.8" fill="#ffa500" fill-opacity="0.45"/>
<rect x="1045.1" y="628.5" width="4.8" height="75.0" fill="#ffa500" fill-opacity="0.45"/>
<rect x="1054.0" y="608.9" width="4.8" height="94.6" fill="#ffa500" fill-opacity="0.45"/>
<rect x="1062.9" y="628.5" width="4.8" height="75.0" fill="#ffa500" fill-opacity="0.45"/>
<rect x="1071.8" y="618.7" width="4.8" height="84.8" fill="#ffa500" fill-opacity="0.45"/>
<rect x="1080.7" y="611.7" width="4.8" height="91.8" fill="#ffa500" fill-opacity="0.45"/>
<rect x="1089.6" y="620.1" width="4.8" height="83.4" fill="#ffa500" fill-opacity="0.45"/>
<rect x="1098.4" y="632.7" width="4.8" height="70.8" fill="#ffa500" fill-opacity="0.45"/>
<rect x="1107.3" y="624.3" width="4.8" height="79.2" fill="#ffa500" fill-opacity="0.45"/>
<rect x="1116.2" y="618.7" width="4.8" height="84.8" fill="#ffa500" fill-opacity="0.45"/>
<rect x="1125.1" y="624.3" width="4.8" height="79.2" fill="#ffa500" fill-opacity="0.45"/>
<rect x="1134.0" y="613.1" width="4.8" height="90.4" fill="#ffa500" fill-opacity="0.45"/>
<rect x="1142.9" y="620.1" width="4.8" height="83.4" fill="#ffa500" fill-opacity="0.45"/>
<rect x="1151.8" y="587.8" width="4.8" height="115.7" fill="#ffa500" fill-opacity="0.45"/>
<rect x="1160.7" y="627.1" width="4.8" height="76.4" fill="#ffa500" fill-opacity="0.45"/>
<rect x="1169.6" y="614.5" width="4.8" height="89.0" fill="#ffa500" fill-opacity="0.45"/>
<rect x="1178.5" y="597.6" width="4.8" height="105.9" fill="#ffa500" fill-opacity="0.45"/>
<rect x="1187.4" y="589.2" width="4.8" height="114.3" fill="#ffa500" fill-opacity="0.45"/>
<rect x="1196.2" y="613.1" width="4.8" height="90.4" fill="#ffa500" fill-opacity="0.45"/>
<rect x="1205.1" y="604.6" width="4.8" height="98.9" fill="#ffa500" fill-opacity="0.45"/>
<rect x="1214.0" y="592.0" width="4.8" height="111.5" fill="#ffa500" fill-opacity="0.45"/>
<rect x="1222.9" y="590.6" width="4.8" height="112.9" fill="#ffa500" fill-opacity="0.45"/>
</g>
<line x1="464.8" y1="396.7" x2="464.8" y2="703.5" stroke="#808080" stroke-width="5"/>
<rect x="150" y="396.7" width="1075.4" height="306.8" fill="none" stroke="#000" stroke-width="2.2"/>
<line x1="141" y1="396.7" x2="150" y2="396.7" stroke="#000" stroke-width="2"/>
<text x="132.0" y="408.0" font-size="32" fill="#0000ff" text-anchor="end" font-family='"Liberation Serif", serif' transform="matrix(1,0,0,1.07,0,-28.56)" >6</text>
<line x1="141" y1="473.4" x2="150" y2="473.4" stroke="#000" stroke-width="2"/>
<text x="132.0" y="484.7" font-size="32" fill="#0000ff" text-anchor="end" font-family='"Liberation Serif", serif' transform="matrix(1,0,0,1.07,0,-33.93)" >5</text>
<line x1="141" y1="550.1" x2="150" y2="550.1" stroke="#000" stroke-width="2"/>
<text x="132.0" y="561.4" font-size="32" fill="#0000ff" text-anchor="end" font-family='"Liberation Serif", serif' transform="matrix(1,0,0,1.07,0,-39.30)" >4</text>
<line x1="141" y1="626.8" x2="150" y2="626.8" stroke="#000" stroke-width="2"/>
<text x="132.0" y="638.1" font-size="32" fill="#0000ff" text-anchor="end" font-family='"Liberation Serif", serif' transform="matrix(1,0,0,1.07,0,-44.67)" >3</text>
<line x1="141" y1="703.5" x2="150" y2="703.5" stroke="#000" stroke-width="2"/>
<text x="132.0" y="714.8" font-size="32" fill="#0000ff" text-anchor="end" font-family='"Liberation Serif", serif' transform="matrix(1,0,0,1.07,0,-50.04)" >2</text>
<line x1="1225.4" y1="396.7" x2="1234.4" y2="396.7" stroke="#000" stroke-width="2"/>
<text x="1245.0" y="408.0" font-size="32" fill="#ff0000" text-anchor="start" font-family='"Liberation Serif", serif' transform="matrix(1,0,0,1.07,0,-28.56)" >2.0</text>
<line x1="1225.4" y1="473.4" x2="1234.4" y2="473.4" stroke="#000" stroke-width="2"/>
<text x="1245.0" y="484.7" font-size="32" fill="#ff0000" text-anchor="start" font-family='"Liberation Serif", serif' transform="matrix(1,0,0,1.07,0,-33.93)" >1.5</text>
<line x1="1225.4" y1="550.1" x2="1234.4" y2="550.1" stroke="#000" stroke-width="2"/>
<text x="1245.0" y="561.4" font-size="32" fill="#ff0000" text-anchor="start" font-family='"Liberation Serif", serif' transform="matrix(1,0,0,1.07,0,-39.30)" >1.0</text>
<line x1="1225.4" y1="626.8" x2="1234.4" y2="626.8" stroke="#000" stroke-width="2"/>
<text x="1245.0" y="638.1" font-size="32" fill="#ff0000" text-anchor="start" font-family='"Liberation Serif", serif' transform="matrix(1,0,0,1.07,0,-44.67)" >0.5</text>
<line x1="1225.4" y1="703.5" x2="1234.4" y2="703.5" stroke="#000" stroke-width="2"/>
<text x="1245.0" y="714.8" font-size="32" fill="#ff0000" text-anchor="start" font-family='"Liberation Serif", serif' transform="matrix(1,0,0,1.07,0,-50.04)" >0.0</text>
<line x1="158.4" y1="703.5" x2="158.4" y2="712.5" stroke="#000" stroke-width="2"/>
<text x="158.4" y="746.0" font-size="32" fill="#000" text-anchor="middle" font-family='"Liberation Serif", serif' transform="matrix(1,0,0,1.07,0,-52.22)" >1980</text>
<line x1="336.2" y1="703.5" x2="336.2" y2="712.5" stroke="#000" stroke-width="2"/>
<text x="336.2" y="746.0" font-size="32" fill="#000" text-anchor="middle" font-family='"Liberation Serif", serif' transform="matrix(1,0,0,1.07,0,-52.22)" >2000</text>
<line x1="514.0" y1="703.5" x2="514.0" y2="712.5" stroke="#000" stroke-width="2"/>
<text x="514.0" y="746.0" font-size="32" fill="#000" text-anchor="middle" font-family='"Liberation Serif", serif' transform="matrix(1,0,0,1.07,0,-52.22)" >2020</text>
<line x1="691.9" y1="703.5" x2="691.9" y2="712.5" stroke="#000" stroke-width="2"/>
<text x="691.9" y="746.0" font-size="32" fill="#000" text-anchor="middle" font-family='"Liberation Serif", serif' transform="matrix(1,0,0,1.07,0,-52.22)" >2040</text>
<line x1="869.7" y1="703.5" x2="869.7" y2="712.5" stroke="#000" stroke-width="2"/>
<text x="869.7" y="746.0" font-size="32" fill="#000" text-anchor="middle" font-family='"Liberation Serif", serif' transform="matrix(1,0,0,1.07,0,-52.22)" >2060</text>
<line x1="1047.5" y1="703.5" x2="1047.5" y2="712.5" stroke="#000" stroke-width="2"/>
<text x="1047.5" y="746.0" font-size="32" fill="#000" text-anchor="middle" font-family='"Liberation Serif", serif' transform="matrix(1,0,0,1.07,0,-52.22)" >2080</text>
<line x1="1225.3" y1="703.5" x2="1225.3" y2="712.5" stroke="#000" stroke-width="2"/>
<text x="1225.3" y="746.0" font-size="32" fill="#000" text-anchor="middle" font-family='"Liberation Serif", serif' transform="matrix(1,0,0,1.07,0,-52.22)" >2100</text>
<line x1="1376.3" y1="396.7" x2="1376.3" y2="703.5" stroke="#000" stroke-width="2"/>
<line x1="1376.3" y1="442.4" x2="1385" y2="442.4" stroke="#000" stroke-width="2"/>
<text x="1394.8" y="453.3" font-size="30" fill="#ffa500" text-anchor="start" font-family='"Liberation Sans", sans-serif' transform="matrix(1,0,0,1.07,0,-31.73)" >220</text>
<line x1="1376.3" y1="532.4" x2="1385" y2="532.4" stroke="#000" stroke-width="2"/>
<text x="1394.8" y="543.3" font-size="30" fill="#ffa500" text-anchor="start" font-family='"Liberation Sans", sans-serif' transform="matrix(1,0,0,1.07,0,-38.03)" >200</text>
<line x1="1376.3" y1="622.9" x2="1385" y2="622.9" stroke="#000" stroke-width="2"/>
<text x="1394.8" y="633.8" font-size="30" fill="#ffa500" text-anchor="start" font-family='"Liberation Sans", sans-serif' transform="matrix(1,0,0,1.07,0,-44.37)" >180</text>
<text x="167.0" y="433.5" font-size="32" fill="#000" text-anchor="start" font-family='"Liberation Serif", serif' transform="matrix(1,0,0,1.07,0,-30.35)" >(b) CMIP6</text>
<g transform="translate(94.7,659.4) rotate(-90)" fill="#0000ff"><text x="-0.0" y="0.0" font-family='"Liberation Serif", serif' font-style="normal" font-size="38.8">Wind [m</text><text x="142.9" y="0.0" font-family='"Liberation Sans", sans-serif' font-style="italic" font-size="41">s</text><text x="167.0" y="-16.0" font-family='"Liberation Sans", sans-serif' font-style="normal" font-size="27.5">–</text><text x="185.9" y="-14.5" font-family='"Liberation Sans", sans-serif' font-style="normal" font-size="27.5">1</text><text x="203.1" y="0.0" font-family='"Liberation Serif", serif' font-style="normal" font-size="38.8">]</text></g>
<g transform="translate(1321.5,633.9) rotate(-90)" fill="#ff0000"><text x="-0.7" y="0.0" font-family='"Liberation Serif", serif' font-style="normal" font-size="38.8">Ts - Ta [K]</text></g>
<g transform="translate(1490.9,736.2) rotate(-90)" fill="#ffa500"><text x="-1.1" y="0.0" font-family='"Liberation Serif", serif' font-style="normal" font-size="37.2">Net shortwave [W</text><text x="281.8" y="0.0" font-family='"Liberation Sans", sans-serif' font-style="italic" font-size="41">m</text><text x="323.0" y="-16.0" font-family='"Liberation Sans", sans-serif' font-style="normal" font-size="27.5">–</text><text x="343.6" y="-14.5" font-family='"Liberation Sans", sans-serif' font-style="normal" font-size="27.5">2</text><text x="357.9" y="0.0" font-family='"Liberation Serif", serif' font-style="normal" font-size="38.8">]</text></g>
<line x1="217" y1="795.3" x2="217" y2="857.4" stroke="#000" stroke-width="2.2"/>
<line x1="217" y1="932" x2="217" y2="952.1" stroke="#000" stroke-width="2.2"/>
<line x1="201.6" y1="795.3" x2="232.4" y2="795.3" stroke="#000" stroke-width="2.2"/>
<line x1="201.6" y1="952.1" x2="232.4" y2="952.1" stroke="#000" stroke-width="2.2"/>
<rect x="185.7" y="857.4" width="61.6" height="74.6" fill="#add8e6" stroke="#000" stroke-width="2.2"/>
<line x1="185.7" y1="885.4" x2="247.3" y2="885.4" stroke="#0000ff" stroke-width="2.2"/>
<line x1="350.9" y1="894.7" x2="350.9" y2="899.4" stroke="#000" stroke-width="2.2"/>
<line x1="350.9" y1="927.9" x2="350.9" y2="932" stroke="#000" stroke-width="2.2"/>
<line x1="335.5" y1="894.7" x2="366.3" y2="894.7" stroke="#000" stroke-width="2.2"/>
<line x1="335.5" y1="932" x2="366.3" y2="932" stroke="#000" stroke-width="2.2"/>
<rect x="320.1" y="899.4" width="61.6" height="28.5" fill="#90ee90" stroke="#000" stroke-width="2.2"/>
<line x1="320.1" y1="912.9" x2="381.7" y2="912.9" stroke="#0000ff" stroke-width="2.2"/>
<circle cx="350.9" cy="848" r="8" fill="none" stroke="#000" stroke-width="2.2"/>
<circle cx="350.9" cy="977.3" r="8" fill="none" stroke="#000" stroke-width="2.2"/>
<line x1="485.8" y1="835.9" x2="485.8" y2="876" stroke="#000" stroke-width="2.2"/>
<line x1="485.8" y1="989.9" x2="485.8" y2="1034.7" stroke="#000" stroke-width="2.2"/>
<line x1="470.5" y1="835.9" x2="501.1" y2="835.9" stroke="#000" stroke-width="2.2"/>
<line x1="470.5" y1="1034.7" x2="501.1" y2="1034.7" stroke="#000" stroke-width="2.2"/>
<rect x="455" y="876" width="61.1" height="113.9" fill="#ffc0cb" stroke="#000" stroke-width="2.2"/>
<line x1="455" y1="952.1" x2="516.1" y2="952.1" stroke="#0000ff" stroke-width="2.2"/>
<line x1="619.7" y1="855.1" x2="619.7" y2="859.7" stroke="#000" stroke-width="2.2"/>
<line x1="619.7" y1="1044" x2="619.7" y2="1074.4" stroke="#000" stroke-width="2.2"/>
<line x1="604.2" y1="855.1" x2="635.2" y2="855.1" stroke="#000" stroke-width="2.2"/>
<line x1="604.2" y1="1074.4" x2="635.2" y2="1074.4" stroke="#000" stroke-width="2.2"/>
<rect x="589" y="859.7" width="62.0" height="184.3" fill="#ff6347" stroke="#000" stroke-width="2.2"/>
<line x1="589" y1="929.3" x2="651" y2="929.3" stroke="#0000ff" stroke-width="2.2"/>
<rect x="149.3" y="781.3" width="538.1" height="307.1" fill="none" stroke="#000" stroke-width="2.2"/>
<line x1="140" y1="844.3" x2="149.3" y2="844.3" stroke="#000" stroke-width="2"/>
<text x="129.0" y="855.6" font-size="32" fill="#000" text-anchor="end" font-family='"Liberation Serif", serif' transform="matrix(1,0,0,1.07,0,-59.89)" >0.00</text>
<line x1="140" y1="925.7" x2="149.3" y2="925.7" stroke="#000" stroke-width="2"/>
<text x="129.0" y="937.0" font-size="32" fill="#000" text-anchor="end" font-family='"Liberation Serif", serif' transform="matrix(1,0,0,1.07,0,-65.59)" >−0.02</text>
<line x1="140" y1="1007.1" x2="149.3" y2="1007.1" stroke="#000" stroke-width="2"/>
<text x="129.0" y="1018.4" font-size="32" fill="#000" text-anchor="end" font-family='"Liberation Serif", serif' transform="matrix(1,0,0,1.07,0,-71.29)" >−0.04</text>
<line x1="140" y1="1088.4" x2="149.3" y2="1088.4" stroke="#000" stroke-width="2"/>
<text x="129.0" y="1099.7" font-size="32" fill="#000" text-anchor="end" font-family='"Liberation Serif", serif' transform="matrix(1,0,0,1.07,0,-76.98)" >−0.06</text>
<line x1="217" y1="1088.4" x2="217" y2="1097.4" stroke="#000" stroke-width="2"/>
<text x="217.0" y="1130.0" font-size="32" fill="#000" text-anchor="middle" font-family='"Liberation Serif", serif' transform="matrix(1,0,0,1.07,0,-79.10)" >SSP126</text>
<line x1="350.9" y1="1088.4" x2="350.9" y2="1097.4" stroke="#000" stroke-width="2"/>
<text x="350.9" y="1130.0" font-size="32" fill="#000" text-anchor="middle" font-family='"Liberation Serif", serif' transform="matrix(1,0,0,1.07,0,-79.10)" >SSP245</text>
<line x1="485.8" y1="1088.4" x2="485.8" y2="1097.4" stroke="#000" stroke-width="2"/>
<text x="485.8" y="1130.0" font-size="32" fill="#000" text-anchor="middle" font-family='"Liberation Serif", serif' transform="matrix(1,0,0,1.07,0,-79.10)" >SSP370</text>
<line x1="619.7" y1="1088.4" x2="619.7" y2="1097.4" stroke="#000" stroke-width="2"/>
<text x="619.7" y="1130.0" font-size="32" fill="#000" text-anchor="middle" font-family='"Liberation Serif", serif' transform="matrix(1,0,0,1.07,0,-79.10)" >SSP585</text>
<text x="166.0" y="817.5" font-size="32" fill="#000" text-anchor="start" font-family='"Liberation Serif", serif' transform="matrix(1,0,0,1.07,0,-57.23)" >(c) CMIP6 Trend</text>
<g transform="translate(36.9,1136.7) rotate(-90)" fill="#000"><text x="-0.0" y="0.0" font-family='"Liberation Serif", serif' font-style="normal" font-size="38.8">Wind [m</text><text x="142.9" y="0.0" font-family='"Liberation Sans", sans-serif' font-style="italic" font-size="41">s</text><text x="167.0" y="-16.0" font-family='"Liberation Sans", sans-serif' font-style="normal" font-size="27.5">–</text><text x="185.9" y="-14.5" font-family='"Liberation Sans", sans-serif' font-style="normal" font-size="27.5">1</text><text x="214.1" y="0.0" font-family='"Liberation Sans", sans-serif' font-style="italic" font-size="41">decade</text><text x="354.5" y="-16.0" font-family='"Liberation Sans", sans-serif' font-style="normal" font-size="27.5">–</text><text x="371.4" y="-14.5" font-family='"Liberation Sans", sans-serif' font-style="normal" font-size="27.5">1</text><text x="388.1" y="0.0" font-family='"Liberation Serif", serif' font-style="normal" font-size="38.8">]</text></g>
<line x1="908.6" y1="1038.9" x2="908.6" y2="1038.9" stroke="#000" stroke-width="2.2"/>
<line x1="908.6" y1="1047.3" x2="908.6" y2="1047.3" stroke="#000" stroke-width="2.2"/>
<line x1="893.1" y1="1038.9" x2="924.1" y2="1038.9" stroke="#000" stroke-width="2.2"/>
<line x1="893.1" y1="1047.3" x2="924.1" y2="1047.3" stroke="#000" stroke-width="2.2"/>
<rect x="877.3" y="1038.9" width="62.1" height="8.4" fill="#add8e6" stroke="#000" stroke-width="2.2"/>
<line x1="877.3" y1="1041.3" x2="939.4" y2="1041.3" stroke="#0000ff" stroke-width="2.2"/>
<circle cx="908.6" cy="1019.3" r="8" fill="none" stroke="#000" stroke-width="2.2"/>
<circle cx="908.6" cy="1062.7" r="8" fill="none" stroke="#000" stroke-width="2.2"/>
<line x1="1043" y1="940.5" x2="1043" y2="997.4" stroke="#000" stroke-width="2.2"/>
<line x1="1043" y1="1041.7" x2="1043" y2="1046" stroke="#000" stroke-width="2.2"/>
<line x1="1027.6" y1="940.5" x2="1058.4" y2="940.5" stroke="#000" stroke-width="2.2"/>
<line x1="1027.6" y1="1046" x2="1058.4" y2="1046" stroke="#000" stroke-width="2.2"/>
<rect x="1012.2" y="997.4" width="61.6" height="44.3" fill="#90ee90" stroke="#000" stroke-width="2.2"/>
<line x1="1012.2" y1="1028.7" x2="1073.8" y2="1028.7" stroke="#0000ff" stroke-width="2.2"/>
<line x1="1177.4" y1="886.8" x2="1177.4" y2="936.7" stroke="#000" stroke-width="2.2"/>
<line x1="1177.4" y1="1026.3" x2="1177.4" y2="1074.4" stroke="#000" stroke-width="2.2"/>
<line x1="1161.9" y1="886.8" x2="1192.9" y2="886.8" stroke="#000" stroke-width="2.2"/>
<line x1="1161.9" y1="1074.4" x2="1192.9" y2="1074.4" stroke="#000" stroke-width="2.2"/>
<rect x="1146.1" y="936.7" width="62.1" height="89.6" fill="#ffc0cb" stroke="#000" stroke-width="2.2"/>
<line x1="1146.1" y1="1014.7" x2="1208.2" y2="1014.7" stroke="#0000ff" stroke-width="2.2"/>
<line x1="1311.8" y1="908.7" x2="1311.8" y2="922.3" stroke="#000" stroke-width="2.2"/>
<line x1="1311.8" y1="1005.3" x2="1311.8" y2="1066" stroke="#000" stroke-width="2.2"/>
<line x1="1296.4" y1="908.7" x2="1327.2" y2="908.7" stroke="#000" stroke-width="2.2"/>
<line x1="1296.4" y1="1066" x2="1327.2" y2="1066" stroke="#000" stroke-width="2.2"/>
<rect x="1281" y="922.3" width="61.6" height="83.0" fill="#ff6347" stroke="#000" stroke-width="2.2"/>
<line x1="1281" y1="981.5" x2="1342.6" y2="981.5" stroke="#0000ff" stroke-width="2.2"/>
<circle cx="1311.8" cy="795.3" r="8" fill="none" stroke="#000" stroke-width="2.2"/>
<rect x="840.9" y="781.3" width="538.6" height="307.1" fill="none" stroke="#000" stroke-width="2.2"/>
<line x1="831.5" y1="850.4" x2="840.9" y2="850.4" stroke="#000" stroke-width="2"/>
<text x="822.0" y="861.7" font-size="32" fill="#000" text-anchor="end" font-family='"Liberation Serif", serif' transform="matrix(1,0,0,1.07,0,-60.32)" >0.10</text>
<line x1="831.5" y1="945.6" x2="840.9" y2="945.6" stroke="#000" stroke-width="2"/>
<text x="822.0" y="956.9" font-size="32" fill="#000" text-anchor="end" font-family='"Liberation Serif", serif' transform="matrix(1,0,0,1.07,0,-66.98)" >0.05</text>
<line x1="831.5" y1="1040.3" x2="840.9" y2="1040.3" stroke="#000" stroke-width="2"/>
<text x="822.0" y="1051.6" font-size="32" fill="#000" text-anchor="end" font-family='"Liberation Serif", serif' transform="matrix(1,0,0,1.07,0,-73.61)" >0.00</text>
<line x1="908.6" y1="1088.4" x2="908.6" y2="1097.4" stroke="#000" stroke-width="2"/>
<text x="908.6" y="1130.0" font-size="32" fill="#000" text-anchor="middle" font-family='"Liberation Serif", serif' transform="matrix(1,0,0,1.07,0,-79.10)" >SSP126</text>
<line x1="1043" y1="1088.4" x2="1043" y2="1097.4" stroke="#000" stroke-width="2"/>
<text x="1043.0" y="1130.0" font-size="32" fill="#000" text-anchor="middle" font-family='"Liberation Serif", serif' transform="matrix(1,0,0,1.07,0,-79.10)" >SSP245</text>
<line x1="1177.4" y1="1088.4" x2="1177.4" y2="1097.4" stroke="#000" stroke-width="2"/>
<text x="1177.4" y="1130.0" font-size="32" fill="#000" text-anchor="middle" font-family='"Liberation Serif", serif' transform="matrix(1,0,0,1.07,0,-79.10)" >SSP370</text>
<line x1="1311.8" y1="1088.4" x2="1311.8" y2="1097.4" stroke="#000" stroke-width="2"/>
<text x="1311.8" y="1130.0" font-size="32" fill="#000" text-anchor="middle" font-family='"Liberation Serif", serif' transform="matrix(1,0,0,1.07,0,-79.10)" >SSP585</text>
<text x="861.0" y="817.5" font-size="32" fill="#000" text-anchor="start" font-family='"Liberation Serif", serif' transform="matrix(1,0,0,1.07,0,-57.23)" >(d) CMIP6 Trend</text>
<g transform="translate(747.1,1112.2) rotate(-90)" fill="#000"><text x="-0.7" y="0.0" font-family='"Liberation Serif", serif' font-style="normal" font-size="38.8">Ts - Ta [K</text><text x="168.6" y="0.0" font-family='"Liberation Sans", sans-serif' font-style="italic" font-size="41">decade</text><text x="306.0" y="-16.0" font-family='"Liberation Sans", sans-serif' font-style="normal" font-size="27.5">–</text><text x="323.9" y="-14.5" font-family='"Liberation Sans", sans-serif' font-style="normal" font-size="27.5">1</text><text x="340.1" y="0.0" font-family='"Liberation Serif", serif' font-style="normal" font-size="38.8">]</text></g>
</svg></body></html>
